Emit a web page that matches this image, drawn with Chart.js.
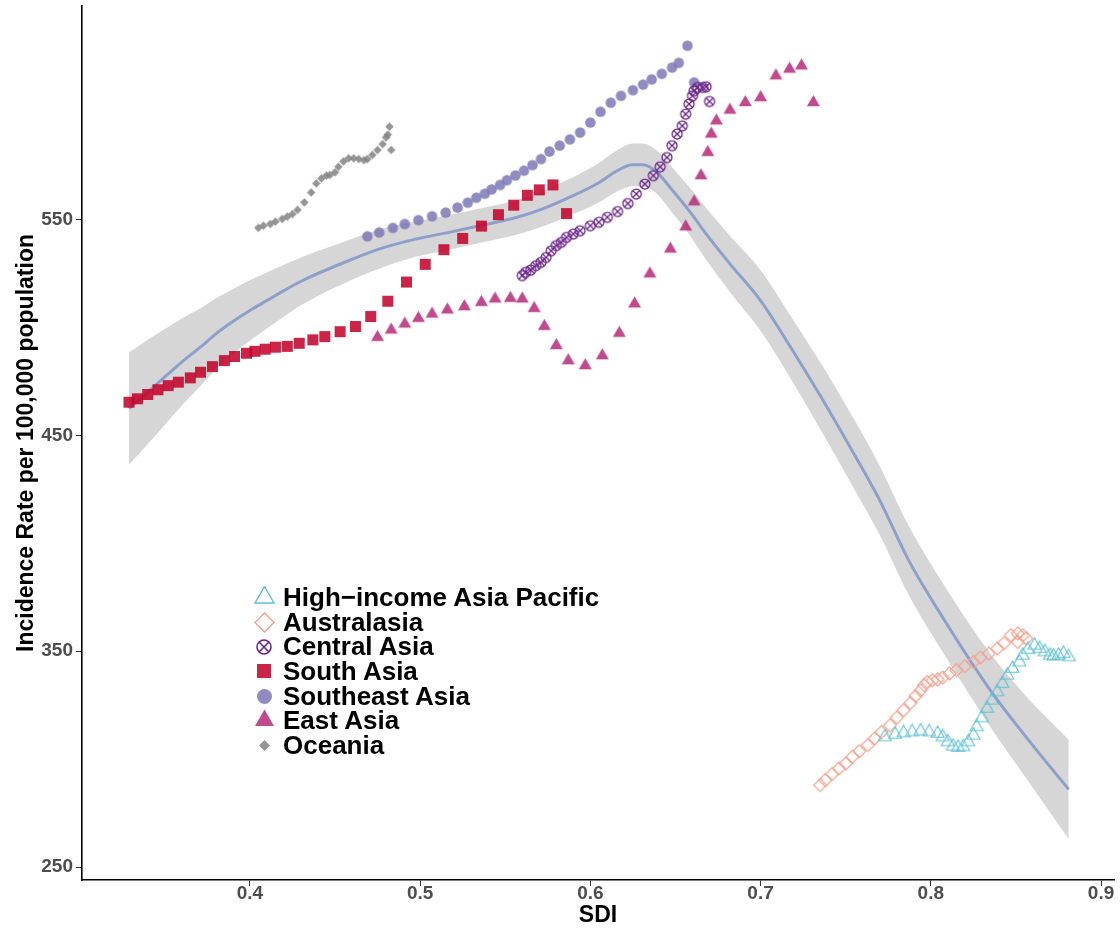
<!DOCTYPE html>
<html>
<head>
<meta charset="utf-8">
<title>Incidence rate vs SDI</title>
<script src="https://cdn.jsdelivr.net/npm/chart.js@4.4.1/dist/chart.umd.min.js"></script>
<style>
  body { margin: 0; background: #fff; }
  #wrap { position: relative; width: 1120px; height: 937px; }
  #legend {
    position: absolute; left: 252px; top: 585px;
    font: bold 26px "Liberation Sans", Arial, sans-serif; color: #000;
  }
  .row { display: flex; align-items: center; height: 24.7px; white-space: nowrap; }
  .key { width: 24px; height: 24px; margin-right: 7px; display: flex; align-items: center; justify-content: center; }
</style>
</head>
<body>
<div id="wrap">
  <canvas id="chart"></canvas>
  <div id="legend"></div>
</div>
<script>
// values (SDI on x, incidence per 100,000 on y)
const hiapSdi = [0.773,0.779,0.784,0.789,0.794,0.799,0.804,0.807,0.810,0.813,0.816,0.819,0.822,0.825,0.827,0.830,0.833,0.836,0.839,0.842,0.845,0.848,0.852,0.854,0.857,0.861,0.864,0.867,0.870,0.872,0.875,0.878,0.881];
const hiapRate = [310.3,311.4,312.2,312.6,313.0,312.6,311.9,310.3,308.0,306.0,305.4,305.7,308.0,311.1,315.0,319.1,323.5,327.3,331.2,335.0,338.9,342.0,345.0,348.1,350.8,352.8,351.2,349.7,348.1,347.7,348.1,348.9,347.4];

const australasiaSdi = [0.735,0.738,0.742,0.746,0.750,0.754,0.758,0.763,0.767,0.771,0.776,0.780,0.784,0.788,0.791,0.794,0.796,0.798,0.801,0.804,0.807,0.811,0.815,0.820,0.825,0.829,0.834,0.839,0.843,0.847,0.851,0.854,0.856,0.851];
const australasiaRate = [288.0,290.3,293.1,295.7,298.0,301.1,303.7,306.5,309.6,312.6,315.7,319.3,322.7,326.1,329.2,331.9,334.3,335.8,336.6,336.9,337.8,339.7,341.2,343.1,345.0,347.1,348.9,351.2,353.8,357.4,358.2,357.4,355.9,354.3];

const centralAsiaSdi = [0.560,0.562,0.565,0.568,0.571,0.574,0.577,0.580,0.583,0.586,0.590,0.594,0.600,0.605,0.610,0.616,0.622,0.627,0.632,0.637,0.641,0.645,0.648,0.651,0.654,0.656,0.658,0.660,0.661,0.663,0.666,0.668,0.670];
const centralAsiaRate = [524.1,525.6,526.7,528.7,530.2,532.5,535.6,538.0,539.5,541.8,543.4,544.9,547.2,548.8,551.1,553.8,557.5,561.9,566.5,570.4,574.5,578.8,584.3,589.7,593.5,598.9,603.6,607.4,609.7,611.3,611.3,611.6,604.8];

const southAsiaSdi = [0.329,0.334,0.340,0.346,0.352,0.358,0.365,0.371,0.378,0.385,0.391,0.398,0.403,0.409,0.415,0.422,0.429,0.437,0.444,0.453,0.462,0.471,0.481,0.492,0.503,0.514,0.525,0.536,0.546,0.555,0.563,0.570,0.578,0.586];
const southAsiaRate = [465.4,467.0,469.0,471.2,473.1,474.7,476.7,479.3,481.9,484.7,486.6,488.1,489.0,490.0,490.9,491.3,492.7,494.3,495.8,498.1,500.5,505.1,512.2,521.1,529.3,536.1,541.3,547.0,552.3,556.7,561.3,563.8,566.1,552.8];

const southeastAsiaSdi = [0.469,0.476,0.484,0.491,0.499,0.507,0.515,0.522,0.528,0.533,0.538,0.542,0.547,0.551,0.556,0.561,0.566,0.571,0.576,0.582,0.588,0.594,0.600,0.606,0.612,0.618,0.625,0.631,0.636,0.642,0.648,0.652,0.657,0.661];
const southeastAsiaRate = [542.3,544.1,546.2,548.0,549.8,551.6,553.3,555.6,557.9,560.2,562.0,564.0,566.1,568.3,570.5,572.7,575.3,578.1,581.6,584.3,587.2,590.4,595.0,600.0,604.2,607.4,610.0,612.6,615.0,617.6,620.5,622.7,630.6,613.6];

const eastAsiaSdi = [0.475,0.483,0.491,0.499,0.507,0.516,0.526,0.536,0.544,0.553,0.560,0.567,0.573,0.580,0.587,0.597,0.607,0.617,0.626,0.635,0.647,0.656,0.661,0.665,0.669,0.671,0.674,0.682,0.691,0.700,0.709,0.717,0.724,0.731];
const eastAsiaRate = [495.5,498.9,501.7,504.3,506.3,508.2,509.7,511.7,513.3,513.6,513.3,508.9,500.6,491.7,484.7,482.4,487.0,497.4,511.0,524.9,536.4,546.7,558.3,570.4,581.2,589.7,595.8,600.8,604.3,606.6,616.7,619.8,621.3,604.3];

const oceaniaSdi = [0.405,0.408,0.412,0.415,0.419,0.422,0.425,0.428,0.432,0.436,0.439,0.442,0.445,0.447,0.450,0.452,0.455,0.458,0.461,0.464,0.467,0.469,0.472,0.475,0.478,0.480,0.481,0.482,0.483];
const oceaniaRate = [546.2,547.2,548.0,549.1,550.3,551.4,552.6,554.5,558.0,562.6,566.8,569.1,570.4,570.7,571.9,574.5,577.0,578.4,578.4,578.1,577.6,578.1,580.0,582.3,585.0,588.1,589.4,593.1,582.3];

// smoothed fit and its confidence band
const fitSdi = [0.329,0.341,0.351,0.361,0.371,0.380,0.390,0.400,0.410,0.420,0.431,0.459,0.478,0.498,0.517,0.537,0.557,0.572,0.586,0.605,0.615,0.625,0.631,0.639,0.648,0.658,0.668,0.682,0.700,0.717,0.735,0.752,0.770,0.787,0.808,0.835,0.856,0.881];
const fitRate = [462.4,470.8,477.8,484.7,490.9,497.1,502.8,507.9,512.5,517.1,521.8,531.3,536.9,541.1,544.1,547.5,551.1,555.0,559.7,567.1,572.3,575.4,575.4,572.0,563.8,554.2,543.4,529.5,512.5,491.7,468.5,445.4,419.9,392.1,364.4,331.9,310.2,286.0];
const fitUpper = [488.4,494.8,499.8,504.7,508.9,513.6,517.8,521.9,525.5,529.1,532.8,540.8,545.9,549.3,552.1,555.5,559.1,563.2,568.2,576.3,581.8,585.3,585.3,582.0,574.3,565.2,555.4,542.5,526.5,506.2,484.0,461.4,435.9,408.1,380.4,348.9,329.2,309.0];
const fitLower = [436.4,446.8,455.8,464.7,472.9,480.6,487.8,493.9,499.5,505.1,510.8,521.8,527.9,532.9,536.1,539.5,543.1,546.8,551.2,557.9,562.8,565.5,565.5,562.0,553.3,543.2,531.4,516.5,498.5,477.2,453.0,429.4,403.9,376.1,348.4,314.9,291.2,263.0];

const xTicks = [0.4, 0.5, 0.6, 0.7, 0.8, 0.9];
const yTicks = [250, 350, 450, 550];

const FONT = '"Liberation Sans", Arial, sans-serif';

// marker drawn into a small canvas, used both as pointStyle and in the legend
function makeMarker(shape, size, color, lw) {
    const c = document.createElement('canvas');
    c.width = c.height = Math.ceil(size + 4);
    const g = c.getContext('2d');
    const m = c.width / 2, r = size / 2;
    g.lineWidth = lw || 1;
    g.strokeStyle = color;
    g.fillStyle = color;
    g.beginPath();
    if (shape.startsWith('triangle')) {
        const h = size * 0.866;
        g.moveTo(m, m - h * 2 / 3);
        g.lineTo(m + r, m + h / 3);
        g.lineTo(m - r, m + h / 3);
        g.closePath();
    } else if (shape.startsWith('diamond')) {
        g.moveTo(m, m - r);
        g.lineTo(m + r, m);
        g.lineTo(m, m + r);
        g.lineTo(m - r, m);
        g.closePath();
    } else if (shape === 'square') {
        g.rect(m - r, m - r, size, size);
    } else {
        g.arc(m, m, r, 0, Math.PI * 2);
    }
    if (shape.endsWith('Open') || shape === 'circleCross') g.stroke(); else g.fill();
    if (shape === 'circleCross') {
        const d = r * 0.707;
        g.beginPath();
        g.moveTo(m - d, m - d); g.lineTo(m + d, m + d);
        g.moveTo(m + d, m - d); g.lineTo(m - d, m + d);
        g.stroke();
    }
    return c;
}

const series = [
    { name: 'High\u2212income Asia Pacific', sdi: hiapSdi, rate: hiapRate, shape: 'triangleOpen', color: 'rgb(95,192,212)', size: 13, key: 19, lw: 1.1 },
    { name: 'Australasia', sdi: australasiaSdi, rate: australasiaRate, shape: 'diamondOpen', color: 'rgb(246,160,140)', size: 13, key: 19, lw: 1.1 },
    { name: 'Central Asia', sdi: centralAsiaSdi, rate: centralAsiaRate, shape: 'circleCross', color: 'rgb(106,36,136)', size: 10, key: 14, lw: 1.25 },
    { name: 'South Asia', sdi: southAsiaSdi, rate: southAsiaRate, shape: 'square', color: 'rgba(196,0,40,0.86)', size: 11, key: 14 },
    { name: 'Southeast Asia', sdi: southeastAsiaSdi, rate: southeastAsiaRate, shape: 'circle', color: 'rgba(125,120,182,0.85)', size: 10.5, key: 15 },
    { name: 'East Asia', sdi: eastAsiaSdi, rate: eastAsiaRate, shape: 'triangle', color: 'rgba(182,42,122,0.85)', size: 13, key: 19 },
    { name: 'Oceania', sdi: oceaniaSdi, rate: oceaniaRate, shape: 'diamond', color: 'rgba(130,130,130,0.85)', size: 8.5, key: 11 }
];

const toXY = (xs, ys) => xs.map((x, i) => ({ x: x, y: ys[i] }));

const pointSets = series.map(s => ({
    label: s.name,
    data: toXY(s.sdi, s.rate),
    pointStyle: makeMarker(s.shape, s.size, s.color, s.lw),
    pointRadius: 5,
    showLine: false,
    order: 0
}));

const smoothLine = {
    label: 'fit',
    data: toXY(fitSdi, fitRate),
    showLine: true,
    borderColor: 'rgb(141,160,203)',
    borderWidth: 3,
    pointRadius: 0,
    cubicInterpolationMode: 'monotone',
    order: 1
};
const bandUpper = {
    label: 'upper',
    data: toXY(fitSdi, fitUpper),
    showLine: true,
    borderColor: 'transparent',
    backgroundColor: 'rgba(153,153,153,0.4)',
    pointRadius: 0,
    fill: '+1',
    cubicInterpolationMode: 'monotone',
    order: 2
};
const bandLower = {
    label: 'lower',
    data: toXY(fitSdi, fitLower),
    showLine: true,
    borderColor: 'transparent',
    pointRadius: 0,
    cubicInterpolationMode: 'monotone',
    order: 2
};

const tickFont = { family: FONT, size: 19, weight: 'bold' };
const titleFont = { family: FONT, size: 23, weight: 'bold' };
const tickGrid = { display: true, drawOnChartArea: false, drawTicks: true, tickLength: 6, color: '#333333', lineWidth: 1 };
const axisBorder = { display: true, color: '#000000', width: 1.6 };

new Chart(document.getElementById('chart'), {
    type: 'scatter',
    data: { datasets: [...pointSets, smoothLine, bandUpper, bandLower] },
    options: {
        responsive: true,
        maintainAspectRatio: false,
        animation: false,
        layout: { padding: { top: 6, right: 5, left: 0, bottom: 0 } },
        plugins: { legend: { display: false }, tooltip: { enabled: false } },
        scales: {
            x: {
                type: 'linear',
                min: 0.3014,
                max: 0.9076,
                afterBuildTicks: axis => { axis.ticks = xTicks.map(v => ({ value: v })); },
                afterFit: axis => { axis.height = 57; axis.paddingLeft = 0; axis.paddingRight = 0; },
                ticks: { callback: v => v.toFixed(1), color: '#4d4d4d', font: tickFont, padding: -4, maxRotation: 0 },
                grid: tickGrid,
                border: axisBorder,
                title: { display: true, text: 'SDI', color: '#000', font: titleFont, padding: { top: 0, bottom: 8 } }
            },
            y: {
                type: 'linear',
                min: 244,
                max: 649,
                afterBuildTicks: axis => { axis.ticks = yTicks.map(v => ({ value: v })); },
                afterFit: axis => { axis.width = 82; axis.paddingTop = 0; axis.paddingBottom = 0; },
                ticks: { color: '#4d4d4d', font: tickFont, padding: 3 },
                grid: tickGrid,
                border: axisBorder,
                title: { display: true, text: 'Incidence Rate per 100,000 population', color: '#000', font: titleFont, padding: { top: 13, bottom: 0 } }
            }
        }
    }
});

// legend placed inside the plot, as in the figure
const legend = document.getElementById('legend');
series.forEach(s => {
    const row = document.createElement('div');
    row.className = 'row';
    const key = document.createElement('span');
    key.className = 'key';
    key.appendChild(makeMarker(s.shape, s.key, s.color, s.lw ? s.lw + 0.3 : 1));
    const label = document.createElement('span');
    label.textContent = s.name;
    row.appendChild(key);
    row.appendChild(label);
    legend.appendChild(row);
});
</script>
</body>
</html>
